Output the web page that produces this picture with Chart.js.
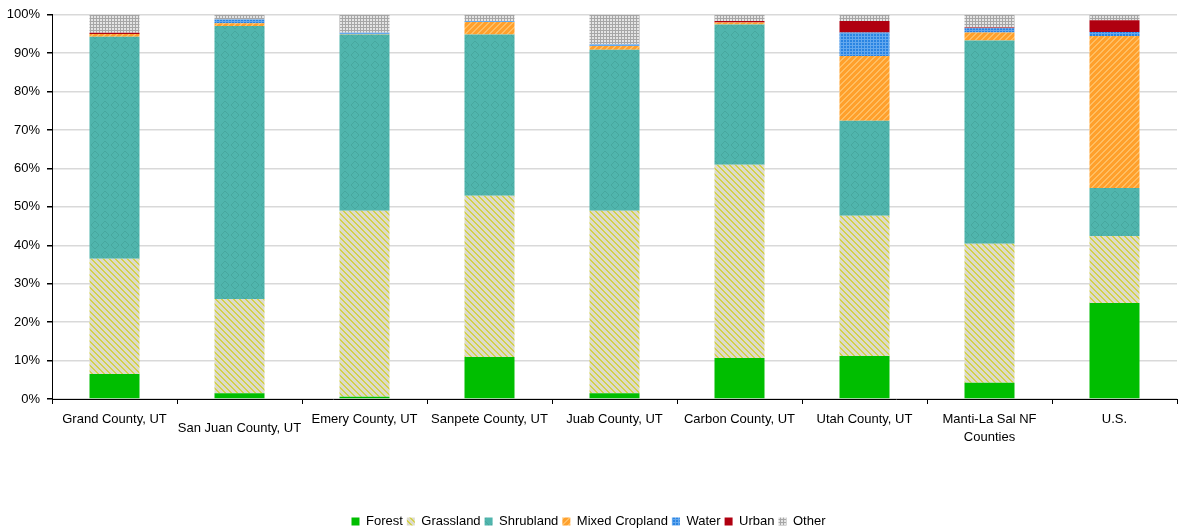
<!DOCTYPE html>
<html>
<head>
<meta charset="utf-8">
<script src="https://cdn.jsdelivr.net/npm/chart.js@4.4.1/dist/chart.umd.min.js"></script>
<style>
  html, body { margin: 0; padding: 0; background: #fff; }
  #wrap { width: 1179px; height: 531px; position: relative; }
</style>
</head>
<body>
<div id="wrap"><canvas id="landChart"></canvas></div>
<script>
// land cover share (%) per area
const categories = [
  "Grand County, UT", "San Juan County, UT", "Emery County, UT", "Sanpete County, UT",
  "Juab County, UT", "Carbon County, UT", "Utah County, UT", ["Manti-La Sal NF", "Counties"], "U.S."
];
const forest        = [6.5, 1.5, 0.6, 10.9, 1.5, 10.7, 11.2, 4.2, 25.0];
const grassland     = [30.0, 24.5, 48.4, 42.0, 47.5, 50.3, 36.5, 36.2, 17.4];
const shrubland     = [57.8, 71.1, 45.9, 42.0, 41.9, 36.5, 24.7, 52.9, 12.5];
const mixedCropland = [0.7, 0.7, 0.1, 3.2, 1.0, 0.5, 16.9, 2.1, 39.6];
const water         = [0.0, 1.0, 0.3, 0.3, 0.4, 0.0, 6.1, 1.1, 1.0];
const urban         = [0.3, 0.0, 0.0, 0.0, 0.0, 0.4, 3.0, 0.2, 3.1];
const other         = [4.7, 1.2, 4.7, 1.6, 7.7, 1.6, 1.6, 3.3, 1.4];
const yTicks = [0, 10, 20, 30, 40, 50, 60, 70, 80, 90, 100];

const FONT = '"Liberation Sans", Arial, sans-serif';

function makePattern(size, bg, paint) {
    const c = document.createElement("canvas");
    c.width = size;
    c.height = size;
    const g = c.getContext("2d");
    g.fillStyle = bg;
    g.fillRect(0, 0, size, size);
    for (let y = 0; y < size; y++) {
        for (let x = 0; x < size; x++) {
            const col = paint(x, y, size);
            if (col) {
                g.fillStyle = col;
                g.fillRect(x, y, 1, 1);
            }
        }
    }
    return g.createPattern(c, "repeat");
}

const grassPattern = makePattern(6, "#DDDBCB", (x, y, s) => {
    const d = ((x - y) % s + s) % s;
    return d < 2 ? "#D3D14A" : null;
});
const shrubPattern = makePattern(10, "#50B5AD", (x, y) => {
    const d = Math.abs(x - 4.5) + Math.abs(y - 4.5);
    return (d > 3.5 && d < 4.6) ? "#47A79E" : null;
});
const cropPattern = makePattern(6, "#FFA02C", (x, y, s) => {
    const d = (x + y) % s;
    return d < 2 ? "#FFBE62" : null;
});
const waterPattern = makePattern(3, "#2A84E2", (x, y) => {
    return (x === 0 || y === 0) ? "#64A8EE" : null;
});
const otherPattern = makePattern(3, "#E4E4E4", (x, y) => {
    return (x === 0 || y === 0) ? "#A6A6A6" : null;
});

const xLabelPlugin = {
    id: "xLabels",
    afterDraw(chart) {
        const ctx = chart.ctx;
        const xs = chart.scales.x;
        const base = chart.chartArea.bottom;
        ctx.save();
        ctx.font = "13px " + FONT;
        ctx.fillStyle = "#000";
        ctx.textAlign = "center";
        ctx.textBaseline = "middle";
        categories.forEach((lab, i) => {
            const lines = Array.isArray(lab) ? lab : [lab];
            const x = xs.getPixelForValue(i);
            const y0 = base + 20 + (i === 1 ? 9 : 0); // San Juan label sits a bit lower
            lines.forEach((t, k) => ctx.fillText(t, x, y0 + k * 18));
        });
        ctx.restore();
    }
};

const datasets = [
    { label: "Forest", data: forest, backgroundColor: "#00BE00" },
    { label: "Grassland", data: grassland, backgroundColor: grassPattern },
    { label: "Shrubland", data: shrubland, backgroundColor: shrubPattern },
    { label: "Mixed Cropland", data: mixedCropland, backgroundColor: cropPattern },
    { label: "Water", data: water, backgroundColor: waterPattern },
    { label: "Urban", data: urban, backgroundColor: "#B00010" },
    { label: "Other", data: other, backgroundColor: otherPattern }
].map(d => Object.assign(d, { barPercentage: 0.4, categoryPercentage: 1.0, borderWidth: 0 }));

new Chart(document.getElementById("landChart"), {
    type: "bar",
    data: { labels: categories, datasets },
    options: {
        responsive: true,
        maintainAspectRatio: false,
        animation: false,
        devicePixelRatio: 1,
        layout: { padding: { top: 14, right: 2, left: 0, bottom: -7 } },
        plugins: {
            tooltip: { enabled: false },
            legend: {
                position: "bottom",
                labels: {
                    boxWidth: 8,
                    boxHeight: 8,
                    padding: 4,
                    color: "#000",
                    font: { family: FONT, size: 13 }
                }
            }
        },
        scales: {
            x: {
                stacked: true,
                grid: { display: true, drawOnChartArea: false, drawTicks: true, tickLength: 5, color: "#000", offset: true },
                border: { display: true, color: "#000", width: 1 },
                ticks: { display: false },
                afterFit: (scale) => { scale.height = 112; }
            },
            y: {
                stacked: true,
                min: 0,
                max: 100,
                afterBuildTicks: (scale) => { scale.ticks = yTicks.map(v => ({ value: v })); },
                grid: { color: "#D9D9D9", lineWidth: 1.5, tickLength: 5, tickColor: "#000" },
                border: { display: true, color: "#000", width: 1 },
                ticks: {
                    padding: 7,
                    color: "#000",
                    font: { family: FONT, size: 13 },
                    callback: (v) => v + "%"
                },
                afterFit: (scale) => { scale.width = 52; }
            }
        }
    },
    plugins: [xLabelPlugin]
});
</script>
</body>
</html>
